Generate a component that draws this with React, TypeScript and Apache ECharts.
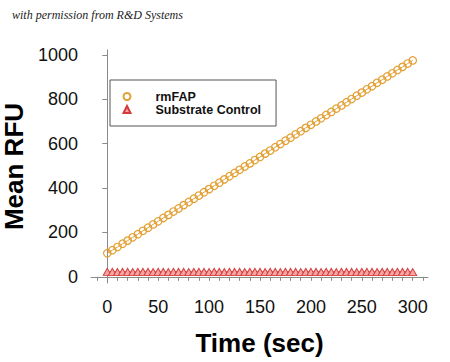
import React, { useEffect, useRef } from "react";
import * as echarts from "echarts";

const times = [
  0, 5, 10, 15, 20, 25, 30, 35, 40, 45,
  50, 55, 60, 65, 70, 75, 80, 85, 90, 95,
  100, 105, 110, 115, 120, 125, 130, 135, 140, 145,
  150, 155, 160, 165, 170, 175, 180, 185, 190, 195,
  200, 205, 210, 215, 220, 225, 230, 235, 240, 245,
  250, 255, 260, 265, 270, 275, 280, 285, 290, 295,
  300,
];

const rmFAP = [
  106, 120, 134, 149, 163, 178, 192, 207, 221, 236,
  250, 265, 279, 294, 308, 323, 337, 352, 366, 381,
  395, 410, 424, 439, 453, 468, 482, 497, 511, 526,
  540, 555, 569, 584, 598, 613, 627, 642, 656, 671,
  685, 700, 714, 729, 743, 758, 772, 787, 801, 816,
  830, 845, 859, 874, 888, 903, 917, 932, 946, 961,
  975,
];

const substrateControl = [
  22, 22, 21, 22, 22, 21, 22, 22, 22, 21,
  22, 22, 21, 22, 22, 22, 21, 22, 22, 22,
  21, 22, 22, 21, 22, 22, 22, 21, 22, 22,
  22, 21, 22, 22, 21, 22, 22, 22, 21, 22,
  22, 22, 21, 22, 22, 21, 22, 22, 22, 21,
  22, 22, 22, 21, 22, 22, 21, 22, 22, 22,
  21,
];

const xTickValues = [-10, 0, 10, 20, 30, 40, 50, 60, 70, 80, 90, 100, 110, 120, 130, 140, 150, 160, 170, 180, 190, 200, 210, 220, 230, 240, 250, 260, 270, 280, 290, 300, 310];
const xLabelValues = [0, 50, 100, 150, 200, 250, 300];
const yTickValues = [0, 200, 400, 600, 800, 1000];

const FONT = "'Liberation Sans', Arial, sans-serif";
const ORANGE = "#E3A035";
const RED = "#D43A3A";
const PINK = "#F6A5A5";
const AXIS = "#8a8a8a";

export default function App() {
  const ref = useRef<HTMLDivElement>(null);
  useEffect(() => {
    if (!ref.current) return;
    const chart = echarts.init(ref.current, undefined, { renderer: "svg" });
    chart.setOption({
      animation: false,
      backgroundColor: "#ffffff",
      grid: { left: 91, right: 22, top: 50, bottom: 79, containLabel: false, outerBoundsMode: "none" },
      graphic: [
        {
          type: "text",
          left: 12,
          top: 9,
          style: {
            text: "with permission from R&D Systems",
            font: "italic 12px 'Liberation Serif', serif",
            fill: "#222",
          },
        },
      ],
      legend: {
        orient: "vertical",
        left: 110,
        top: 80,
        padding: [10, 15, 10, 12.5],
        itemGap: 0,
        itemWidth: 7,
        itemHeight: 7,
        borderColor: "#555",
        borderWidth: 1,
        textStyle: {
          fontFamily: FONT,
          fontWeight: "bold",
          fontSize: 12.5,
          color: "#111",
          lineHeight: 13,
          padding: [0, 0, 0, 20],
        },
        data: [
          { name: "rmFAP", icon: "circle" },
          { name: "Substrate Control", icon: "triangle" },
        ],
      },
      xAxis: {
        type: "value",
        min: -16,
        max: 315,
        name: "Time (sec)",
        nameLocation: "middle",
        nameGap: 47,
        nameTextStyle: { fontFamily: FONT, fontWeight: "bold", fontSize: 26, color: "#000" },
        axisLine: { show: true, lineStyle: { color: AXIS, width: 1 } },
        axisTick: { show: true, length: 4, customValues: xTickValues, lineStyle: { color: AXIS } },
        axisLabel: { customValues: xLabelValues, fontFamily: FONT, fontSize: 18, color: "#111", margin: 15 },
        splitLine: { show: false },
      },
      yAxis: {
        type: "value",
        min: -28,
        max: 1022,
        name: "Mean RFU",
        nameLocation: "middle",
        nameGap: 54,
        nameRotate: 90,
        nameTextStyle: { fontFamily: FONT, fontWeight: "bold", fontSize: 26, color: "#000" },
        axisLine: { show: true, lineStyle: { color: AXIS, width: 1 } },
        axisTick: { show: true, length: 5, customValues: yTickValues, lineStyle: { color: AXIS } },
        axisLabel: {
          customValues: yTickValues,
          formatter: (v: number) => String(v),
          fontFamily: FONT,
          fontSize: 18,
          color: "#111",
          margin: 13,
        },
        splitLine: { show: false },
      },
      series: [
        {
          name: "rmFAP",
          type: "line",
          data: times.map((t, i) => [t, rmFAP[i]]),
          symbol: "circle",
          symbolSize: 7.5,
          showAllSymbol: true,
          itemStyle: { color: "rgba(255,255,255,0)", borderColor: ORANGE, borderWidth: 1.2 },
          lineStyle: { color: ORANGE, width: 1 },
          emphasis: { disabled: true },
        },
        {
          name: "Substrate Control",
          type: "line",
          data: times.map((t, i) => [t, substrateControl[i]]),
          symbol: "triangle",
          symbolSize: [8, 7],
          showAllSymbol: true,
          itemStyle: { color: PINK, borderColor: RED, borderWidth: 1 },
          lineStyle: { color: RED, width: 1 },
          emphasis: { disabled: true },
        },
      ],
    });
    return () => chart.dispose();
  }, []);
  return (
    <div
      ref={ref}
      style={{ position: "fixed", left: 0, top: 0, width: 450, height: 362, background: "#fff" }}
    />
  );
}
